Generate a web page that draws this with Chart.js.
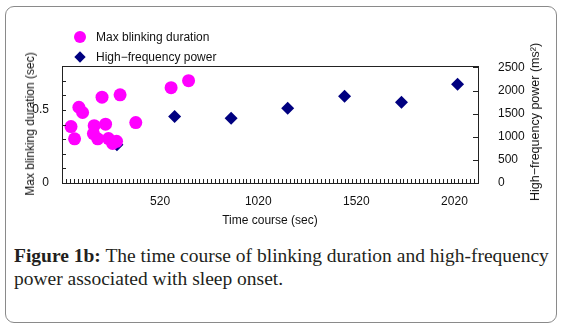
<!DOCTYPE html>
<html lang="en">
<head>
  <meta charset="UTF-8">
  <title>Figure 1b</title>
  <style>
    html, body { margin: 0; padding: 0; background: #fff; }
    body { width: 564px; height: 332px; position: relative; overflow: hidden; }
    .frame {
      position: absolute; left: 5px; top: 6px; width: 550px; height: 315px;
      border: 1px solid #8a8a8a; border-radius: 9px;
    }
    #graphic { position: absolute; left: 0; top: 0; }
    .legend {
      position: absolute; left: 73px; top: 28px;
      font: 12px "Liberation Sans", sans-serif; color: #111;
    }
    .legend div { height: 20px; line-height: 18px; position: relative; padding-left: 23px; }
    .dot {
      position: absolute; left: 1px; top: 3px; width: 12px; height: 12px;
      border-radius: 50%; background: #ff00ff;
    }
    .dia {
      position: absolute; left: 3px; top: 5px; width: 8px; height: 8px;
      background: #000080; transform: rotate(45deg);
    }
    .vtitle {
      position: absolute; white-space: nowrap; line-height: 12px;
      font: 12px "Liberation Sans", sans-serif; color: #111;
      transform: translate(-50%, -50%) rotate(-90deg);
    }
    .caption {
      position: absolute; left: 14px; top: 244px; width: 545px;
      font: 19.5px "Liberation Serif", serif; line-height: 23px; color: #231f20;
    }
  </style>
</head>
<body>
  <div class="frame"></div>
  <canvas id="graphic" width="564" height="232"></canvas>
  <div class="legend">
    <div><span class="dot"></span>Max blinking duration</div>
    <div><span class="dia"></span>High−frequency power</div>
  </div>
  <div class="vtitle" style="left:30px; top:124px;">Max blinking duration (sec)</div>
  <div class="vtitle" style="left:535px; top:122px; font-size:12.5px;">High−frequency power (ms²)</div>
  <div class="caption"><b>Figure 1b:</b> The time course of blinking duration and high-frequency power associated with sleep onset.</div>

  <script src="https://cdn.jsdelivr.net/npm/chart.js"></script>
  <script>
    // blinking duration (sec) over time (sec)
    const blinkTime = [66, 84, 106, 125, 180, 184, 202, 224, 242, 257, 278, 298, 316, 396, 576, 665];
    const blinkDur = [0.386, 0.302, 0.518, 0.482, 0.338, 0.392, 0.302, 0.587, 0.402, 0.304, 0.27, 0.285, 0.603, 0.413, 0.652, 0.70];

    // high-frequency power (ms^2)
    const hfTime = [300, 594, 882, 1170, 1460, 1750, 2036];
    const hfPower = [825, 1440, 1400, 1615, 1875, 1745, 2135];

    const xLabels = [520, 1020, 1520, 2020];
    const leftTicks = [0, 0.1, 0.2, 0.3, 0.4, 0.5, 0.6, 0.7, 0.8];
    const leftLabels = [0, 0.5];
    const rightTicks = [0, 500, 1000, 1500, 2000, 2500];

    const axisFont = { family: "Liberation Sans", size: 12 };
    const titleFont = { family: "Liberation Sans", size: 12 };

    // draws the frame and the short inside tick marks
    const insideTicks = {
      id: 'insideTicks',
      afterDraw(chart) {
        const ctx = chart.ctx;
        const a = chart.chartArea;
        const x = chart.scales.x, yl = chart.scales.y, yr = chart.scales.y2;
        ctx.save();
        ctx.strokeStyle = '#222';
        ctx.lineWidth = 1;
        ctx.strokeRect(Math.round(a.left) + 0.5, Math.round(a.top) + 0.5,
          Math.round(a.right - a.left), Math.round(a.bottom - a.top));
        ctx.beginPath();
        for (let v = x.min + 20; v < x.max; v += 20) {
          const px = Math.round(x.getPixelForValue(v)) + 0.5;
          ctx.moveTo(px, a.bottom);
          ctx.lineTo(px, a.bottom - 4);
        }
        leftTicks.forEach(v => {
          const py = Math.round(yl.getPixelForValue(v)) + 0.5;
          ctx.moveTo(a.left, py);
          ctx.lineTo(a.left + 4, py);
        });
        rightTicks.forEach(v => {
          const py = Math.round(yr.getPixelForValue(v)) + 0.5;
          ctx.moveTo(a.right, py);
          ctx.lineTo(a.right - 5, py);
        });
        ctx.stroke();
        ctx.restore();
      }
    };

    const lienzo = document.getElementById('graphic');
    new Chart(lienzo, {
      type: 'scatter',
      data: {
        datasets: [
          {
            label: 'Max blinking duration',
            data: blinkTime.map((t, i) => ({ x: t, y: blinkDur[i] })),
            yAxisID: 'y',
            pointStyle: 'circle',
            pointRadius: 6.5,
            backgroundColor: '#ff00ff',
            borderWidth: 0
          },
          {
            label: 'High−frequency power',
            data: hfTime.map((t, i) => ({ x: t, y: hfPower[i] })),
            yAxisID: 'y2',
            pointStyle: 'rectRot',
            pointRadius: 6.5,
            backgroundColor: '#000080',
            borderWidth: 0
          }
        ]
      },
      options: {
        responsive: false,
        animation: false,
        events: [],
        layout: { padding: { top: 66, left: 0, right: 0, bottom: 0 } },
        plugins: {
          legend: { display: false },
          tooltip: { enabled: false }
        },
        scales: {
          x: {
            type: 'linear',
            min: 20,
            max: 2140,
            afterBuildTicks: s => { s.ticks = xLabels.map(v => ({ value: v })); },
            afterFit: s => { s.height = 49; },
            grid: { display: false },
            border: { display: false },
            ticks: { font: axisFont, color: '#111', padding: 3, maxRotation: 0, autoSkip: false, callback: v => String(v) },
            title: { display: true, text: 'Time course (sec)', font: titleFont, color: '#111', padding: { top: 5 } }
          },
          y: {
            position: 'left',
            min: 0,
            max: 0.8,
            afterBuildTicks: s => { s.ticks = leftTicks.map(v => ({ value: v })); },
            afterFit: s => { s.width = 62; },
            grid: { display: false },
            border: { display: false },
            ticks: {
              font: axisFont, color: '#111', padding: 5, autoSkip: false,
              callback: v => leftLabels.includes(Math.round(v * 10) / 10) ? String(v) : ''
            }
          },
          y2: {
            position: 'right',
            min: 0,
            max: 2530,
            afterBuildTicks: s => { s.ticks = rightTicks.map(v => ({ value: v })); },
            afterFit: s => { s.width = 86; },
            grid: { display: false },
            border: { display: false },
            ticks: { font: axisFont, color: '#111', padding: 12, autoSkip: false, callback: v => String(v) }
          }
        }
      },
      plugins: [insideTicks]
    });
  </script>
</body>
</html>
